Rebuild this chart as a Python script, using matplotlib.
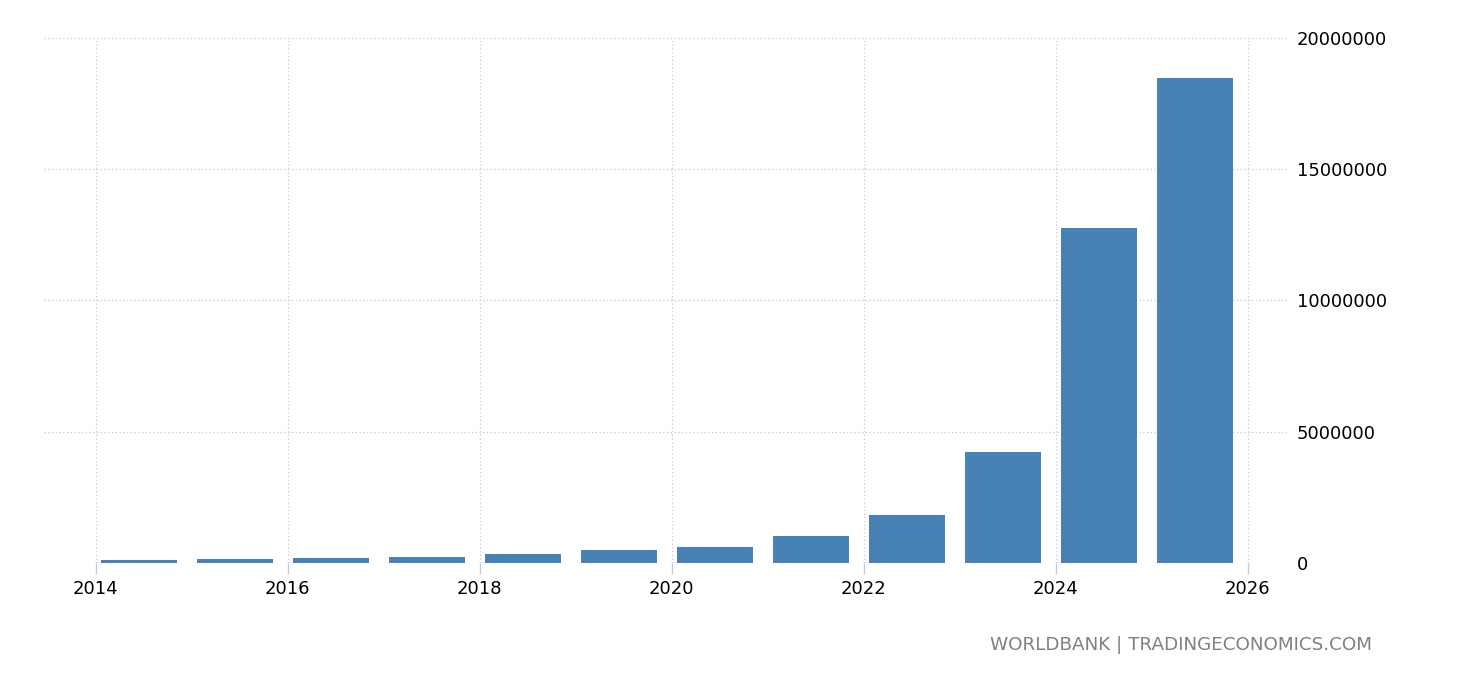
import matplotlib
matplotlib.use("Agg")
import matplotlib.pyplot as plt

# values
years = [2014, 2015, 2016, 2017, 2018, 2019, 2020, 2021, 2022, 2023, 2024, 2025]
values = [100000, 140000, 180000, 220000, 340000, 500000, 610000,
          1030000, 1830000, 4230000, 12770000, 18490000]
xticks = [2014, 2016, 2018, 2020, 2022, 2024, 2026]
yticks = [0, 5000000, 10000000, 15000000, 20000000]

plt.rcParams['font.family'] = ['DejaVu Sans']

fig = plt.figure(figsize=(14.6, 6.8), dpi=100)
ax = fig.add_axes([44 / 1460, 1 - 563 / 680, (1290 - 44) / 1460, (563 - 38) / 680])

# bars sit a bit right of the year tick (mid-year placement)
ax.bar([y + 0.45 for y in years], values, width=0.8, color='#4682b4', zorder=2)

ax.set_xlim(2013.46, 2026.44)
ax.set_ylim(0, 20000000)
ax.set_xticks(xticks)
ax.set_xticklabels([str(t) for t in xticks])
ax.set_yticks(yticks)
ax.set_yticklabels([str(t) for t in yticks])

ax.yaxis.tick_right()
ax.grid(True, color='#c8c8c8', linestyle=(0, (1, 2)), linewidth=0.9, zorder=0)
for s in ax.spines.values():
    s.set_visible(False)

ax.tick_params(axis='x', length=8, width=1, color='#cccccc', labelsize=13, pad=4)
ax.tick_params(axis='y', length=0, labelsize=13, pad=5)

fig.text(1372 / 1460, 1 - 645 / 680, 'WORLDBANK | TRADINGECONOMICS.COM',
         ha='right', va='center', fontsize=13.2, color='#808080')

fig.savefig('out.png', dpi=100)
